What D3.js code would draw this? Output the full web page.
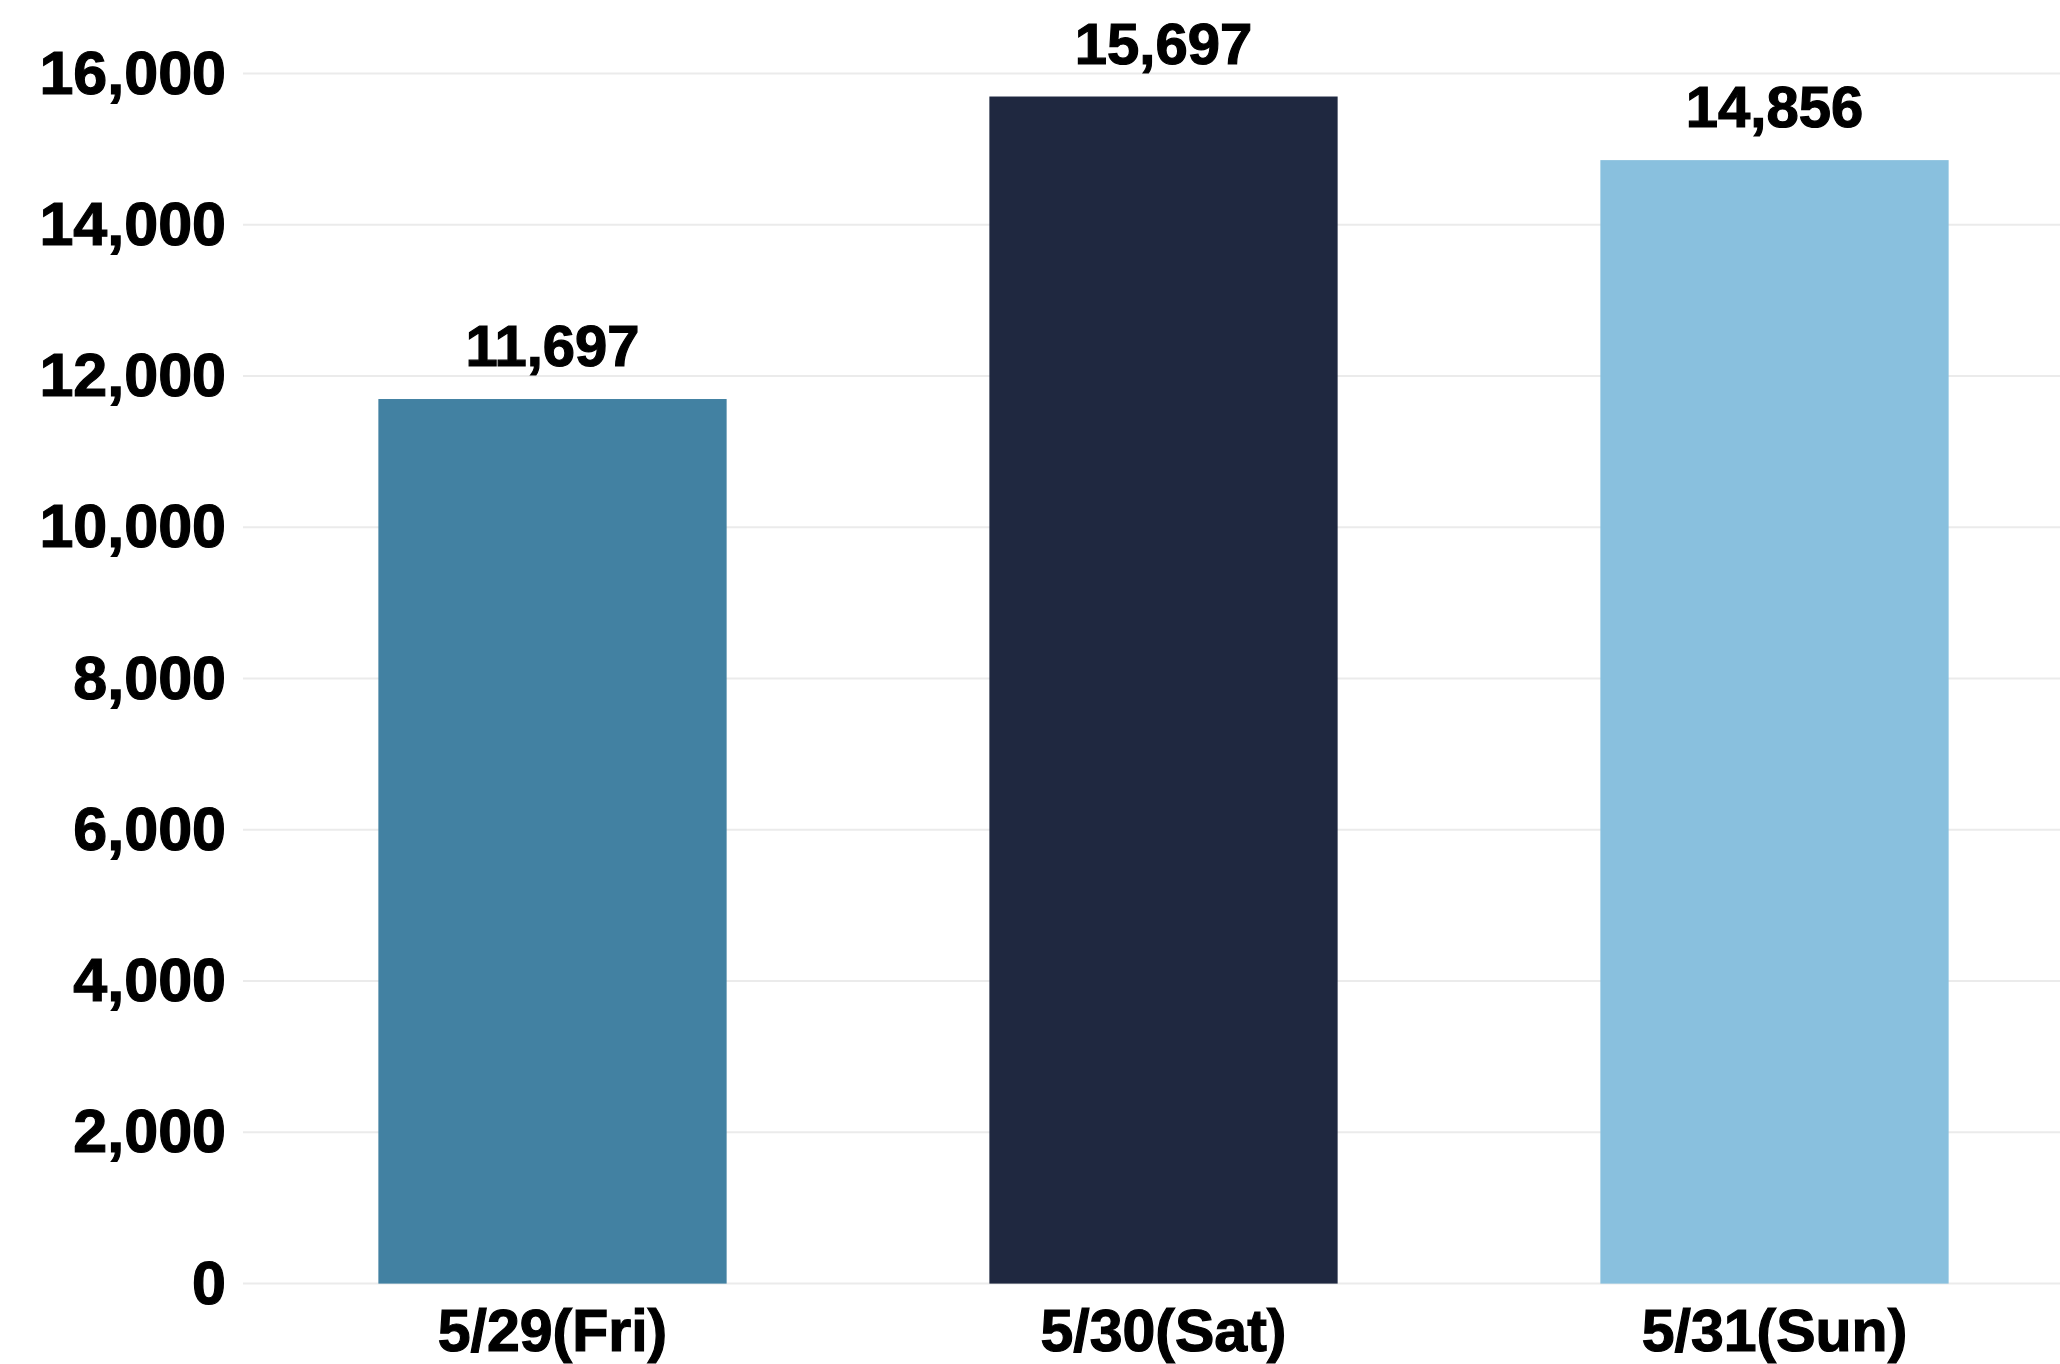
<!DOCTYPE html>
<html>
<head>
<meta charset="utf-8">
<style>
  body { margin: 0; background: #fff; }
  svg { display: block; }
  text { font-family: "Liberation Sans", Arial, sans-serif; font-weight: bold; fill: #000; stroke: #000; stroke-width: 1.2px; }
</style>
</head>
<body>
<script src="https://d3js.org/d3.v7.min.js"></script>
<script>

var width = 2060,
    height = 1364;

// data
var days = ["5/29(Fri)", "5/30(Sat)", "5/31(Sun)"];
var counts = [11697, 15697, 14856];
var barColors = ["#4281a2", "#1f2840", "#89c0de"];
var yTicks = [0, 2000, 4000, 6000, 8000, 10000, 12000, 14000, 16000];

var svg = d3.select("body").append("svg")
    .attr("width", width)
    .attr("height", height);

var x = d3.scaleBand()
    .domain(days)
    .range([247, 2080])
    .paddingInner(0.43)
    .paddingOuter(0.215);

var y = d3.scaleLinear()
    .domain([0, 16000])
    .range([1283.6, 73.6]);

var fmt = d3.format(",");

// gridlines
svg.append("g")
  .selectAll("line")
  .data(yTicks)
  .enter().append("line")
    .attr("x1", 243)
    .attr("x2", width)
    .attr("y1", function(d) { return y(d); })
    .attr("y2", function(d) { return y(d); })
    .attr("stroke", "#ebebeb")
    .attr("stroke-width", 2);

// y axis labels
var yAxis = svg.append("g")
    .attr("transform", "translate(226,0)")
    .call(d3.axisLeft(y).tickValues(yTicks).tickFormat(fmt).tickSize(0).tickPadding(0));
yAxis.select(".domain").remove();
yAxis.selectAll("text")
    .attr("font-size", 61)
    .attr("font-family", "Liberation Sans, Arial, sans-serif")
    .attr("font-weight", "bold")
    .attr("fill", "#000");

// bars
svg.append("g")
  .selectAll("rect")
  .data(counts)
  .enter().append("rect")
    .attr("x", function(d, i) { return x(days[i]); })
    .attr("y", function(d) { return y(d); })
    .attr("width", x.bandwidth())
    .attr("height", function(d) { return y(0) - y(d); })
    .attr("fill", function(d, i) { return barColors[i]; });

// value labels
svg.append("g")
  .selectAll("text")
  .data(counts)
  .enter().append("text")
    .attr("x", function(d, i) { return x(days[i]) + x.bandwidth() / 2; })
    .attr("y", function(d) { return y(d) - 33; })
    .attr("text-anchor", "middle")
    .attr("font-size", 58)
    .text(function(d) { return fmt(d); });

// x axis labels
var xAxis = svg.append("g")
    .attr("transform", "translate(0," + y(0) + ")")
    .call(d3.axisBottom(x).tickSize(0).tickPadding(0));
xAxis.select(".domain").remove();
xAxis.selectAll("text")
    .attr("dy", null)
    .attr("y", 67)
    .attr("font-size", 59)
    .attr("font-family", "Liberation Sans, Arial, sans-serif")
    .attr("font-weight", "bold")
    .attr("fill", "#000");

</script>
</body>
</html>
